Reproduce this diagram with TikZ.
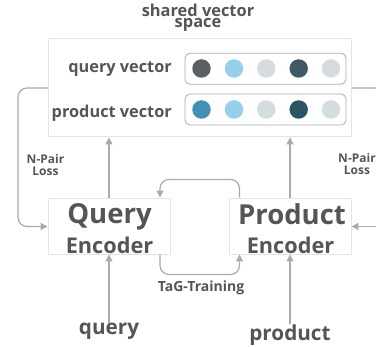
\documentclass[tikz,border=0pt]{standalone}
\usepackage{fontspec}
\setmainfont{Open Sans}[BoldFont={Open Sans Bold}]
\usetikzlibrary{arrows.meta}
\definecolor{txt}{HTML}{555555}
\definecolor{ln}{HTML}{ABABAB}
\definecolor{bx}{HTML}{E4E4E4}
\tikzset{
  lbl/.style={text=txt,font=\bfseries,inner sep=0pt,align=center},
  frame/.style={draw=bx,line width=0.9pt,fill=white,inner sep=0pt},
  pill/.style={draw=ln,line width=0.8pt,rounded corners=5pt,inner sep=0pt,minimum width=161pt,minimum height=31pt},
  dot/.style={circle,minimum size=18.5pt,inner sep=0pt},
  conn/.style={draw=ln,line width=1.2pt,-{Triangle[length=7pt,width=7pt]},rounded corners=9pt},
  loss/.style={lbl,font=\bfseries\fontsize{12}{12.5}\selectfont}
}
\begin{document}
\begin{tikzpicture}[x=1pt,y=-1pt]
\useasboundingbox (0,0) rectangle (376,347);
\fill[white] (0,0) rectangle (376,347);
\coordinate (lt) at (18,88);
\coordinate (lb) at (18,226.5);
\coordinate (rt) at (384,88);
\coordinate (rb) at (384,226.5);
\node[frame,minimum width=303pt,minimum height=98.5pt] (space) at (200,87.7) {};
\node[frame,minimum width=122pt,minimum height=56pt] (qe) at (109,226) {};
\node[frame,minimum width=122pt,minimum height=56pt] (pe) at (290,226) {};
\node[lbl] (qt) at (109.5,217) {\fontsize{27.5}{27}\selectfont Query};
\node[lbl,font=\bfseries\fontsize{21.7}{22}\selectfont] (qb) at (109.5,245.5) {Encoder};
\node[lbl] (pt) at (292,214) {\fontsize{27.5}{27}\selectfont Product};
\node[lbl,font=\bfseries\fontsize{21.7}{22}\selectfont] (pb) at (290.5,245.5) {Encoder};
\node[lbl,font=\bfseries\fontsize{16.4}{11.5}\selectfont] (title) at (198,17.5) {shared vector\\space};
\node[lbl,font=\bfseries\fontsize{16.3}{17}\selectfont,anchor=east] (qv) at (172,69) {query vector};
\node[lbl,font=\bfseries\fontsize{16.3}{17}\selectfont,anchor=east] (pv) at (172,113) {product vector};
\node[pill] (p1) at (265.5,68.7) {};
\node[pill] (p2) at (265.5,109.5) {};
\foreach \n/\x/\c in {a/201.5/5C6064,b/234/94D0EA,c/266.3/D3DCDF,d/298.7/3F5A66,e/331/D3DCDF}{
  \definecolor{dc}{HTML}{\c}
  \node[dot,fill=dc] (u\n) at (\x,68.5) {};
}
\foreach \n/\x/\c in {a/201.5/448FB8,b/234/94D0EA,c/266.3/D3DCDF,d/298.7/2C5564,e/331/D3DCDF}{
  \definecolor{dc}{HTML}{\c}
  \node[dot,fill=dc] (v\n) at (\x,109.5) {};
}
\draw[conn] (space.west |- lt) -- (lt) -- (lb) -- (qe.west |- lb);
\draw[conn,-] (space.east |- rt) -- (rt) -- ++(0,30);
\draw[conn] (rb) -- (pe.east |- rb);
\draw[conn] (qe.north) -- (space.south -| qe.north);
\draw[conn] (pe.north) -- (space.south -| pe.north);
\coordinate (tr) at (239.5,179.5);
\coordinate (tl) at (160,179.5);
\coordinate (br) at (239.5,274.5);
\coordinate (bl) at (160,274.5);
\draw[conn] (tr |- pe.north) -- (tr) -- (tl) -- (tl |- qe.north);
\draw[conn] (bl |- qe.south) -- (bl) -- (br) -- (br |- pe.south);
\node[lbl,font=\bfseries\fontsize{14}{14}\selectfont] (tag) at (201,288) {TaG-Training};
\node[loss] (l1) at (45.5,165) {N-Pair\\Loss};
\node[loss] (l2) at (357,164) {N-Pair\\Loss};
\node[lbl,font=\bfseries\fontsize{20.7}{21}\selectfont] (q) at (109,331) {query};
\node[lbl,font=\bfseries\fontsize{20.7}{21}\selectfont] (p) at (290,335) {product};
\draw[conn] (q.north) -- (qe.south);
\draw[conn] (p.north) -- (pe.south);
\end{tikzpicture}
\end{document}
